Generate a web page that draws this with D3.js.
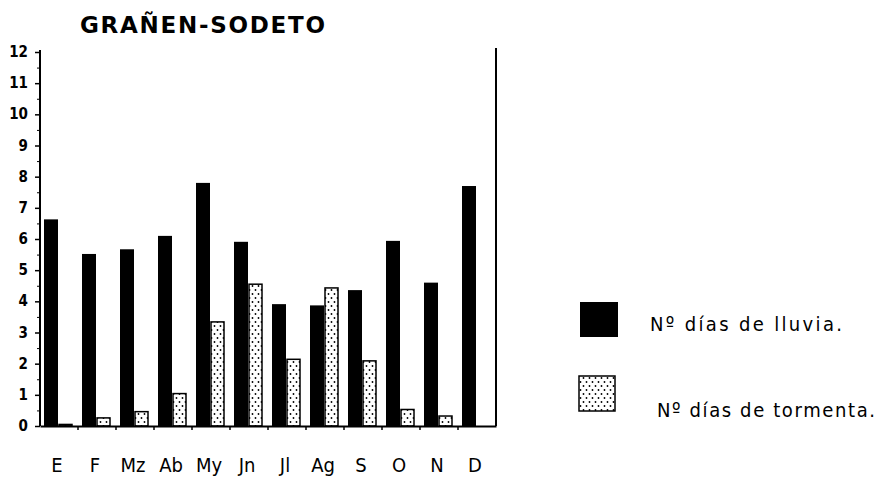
<!DOCTYPE html>
<head>
<meta charset="utf-8">
<style>
  body { margin: 0; background: white; }
  svg { background: white; font-family: 'DejaVu Sans Condensed', 'Liberation Sans Narrow', 'DejaVu Sans', sans-serif; }
  .title { font-size: 23px; font-weight: bold; font-family: 'DejaVu Sans', sans-serif; }
  .tick-label { font-size: 15px; font-weight: bold; }
  .month { font-size: 20px; }
  .legend text { font-size: 20px; }
</style>
</head>
<body>
<script src="https://d3js.org/d3.v7.min.js"></script>
<script>
// data
const months = ['E', 'F', 'Mz', 'Ab', 'My', 'Jn', 'Jl', 'Ag', 'S', 'O', 'N', 'D'];
const lluvia = [6.63, 5.52, 5.67, 6.10, 7.80, 5.91, 3.91, 3.87, 4.36, 5.94, 4.60, 7.70];
const tormenta = [0.05, 0.26, 0.46, 1.04, 3.34, 4.55, 2.14, 4.43, 2.09, 0.53, 0.32, 0];
const yTicks = [0, 1, 2, 3, 4, 5, 6, 7, 8, 9, 10, 11, 12];
const seriesNames = ['lluvia', 'tormenta'];
const legendLabels = ['Nº días de lluvia.', 'Nº días de tormenta.'];

const width = 887, height = 480;
const margin = {top: 52, right: 391, bottom: 54, left: 40};

const svg = d3.select('body').append('svg')
  .attr('width', width)
  .attr('height', height);

// dotted fill
const defs = svg.append('defs');
const pat = defs.append('pattern')
  .attr('id', 'dots')
  .attr('patternUnits', 'userSpaceOnUse')
  .attr('width', 6).attr('height', 8);
pat.append('rect').attr('width', 6).attr('height', 8).attr('fill', 'white');
pat.append('circle').attr('cx', 1.5).attr('cy', 2).attr('r', 0.9).attr('fill', 'black');
pat.append('circle').attr('cx', 4.5).attr('cy', 6).attr('r', 0.9).attr('fill', 'black');

// SCALES
const x = d3.scaleBand(months, [margin.left, width - margin.right]);
const x1 = d3.scaleBand(seriesNames, [4, 32]);
const y = d3.scaleLinear([0, 12], [height - margin.bottom, margin.top]);

// BARS
const groups = svg.append('g').selectAll('g')
  .data(months)
  .join('g')
  .attr('transform', d => `translate(${x(d)},0)`);

groups.append('rect')
  .attr('x', x1('lluvia'))
  .attr('width', x1.bandwidth())
  .attr('y', (d, i) => y(lluvia[i]))
  .attr('height', (d, i) => y(0) - y(lluvia[i]))
  .attr('fill', 'black');

groups.filter((d, i) => tormenta[i] > 0).append('rect')
  .attr('x', x1('tormenta') + 1)
  .attr('width', x1.bandwidth() - 1)
  .attr('y', d => y(tormenta[months.indexOf(d)]))
  .attr('height', d => y(0) - y(tormenta[months.indexOf(d)]))
  .attr('fill', 'url(#dots)')
  .attr('stroke', 'black')
  .attr('stroke-width', 1.5);

// AXES
const yAxisG = svg.append('g')
  .attr('transform', `translate(${margin.left},0)`)
  .call(d3.axisLeft(y).tickValues(yTicks).tickSize(5).tickFormat(''));
yAxisG.select('.domain').attr('stroke-width', 2).attr('d', `M0,${y(0)}V${y(12) - 2}`);
yAxisG.selectAll('line').attr('stroke-width', 1.5);

// half-unit minor ticks
svg.append('g')
  .attr('transform', `translate(${margin.left},0)`)
  .call(d3.axisLeft(y).tickValues(yTicks.slice(1).map(d => d - 0.5)).tickSize(3).tickFormat(''))
  .call(g => g.select('.domain').remove());

svg.append('g').selectAll('text')
  .data(yTicks)
  .join('text')
  .attr('class', 'tick-label')
  .attr('x', margin.left - 12)
  .attr('y', d => y(d) + 5)
  .attr('text-anchor', 'end')
  .text(d => d);

const xAxisG = svg.append('g')
  .attr('transform', `translate(0,${y(0)})`)
  .call(d3.axisBottom(x).tickSize(0).tickFormat(''));
xAxisG.select('.domain').attr('stroke-width', 2);

// tick marks at band boundaries
svg.append('g').selectAll('line')
  .data(months.slice(1))
  .join('line')
  .attr('x1', d => x(d)).attr('x2', d => x(d))
  .attr('y1', y(0)).attr('y2', y(0) + 4)
  .attr('stroke', 'black').attr('stroke-width', 1.5);

// right frame line
svg.append('line')
  .attr('x1', width - margin.right).attr('x2', width - margin.right)
  .attr('y1', y(12) - 4).attr('y2', y(0))
  .attr('stroke', 'black').attr('stroke-width', 2);

svg.append('g').selectAll('text')
  .data(months)
  .join('text')
  .attr('class', 'month')
  .attr('x', d => x(d) + x.bandwidth() / 2 - 2)
  .attr('y', 472)
  .attr('text-anchor', 'middle')
  .text(d => d);

// TITLE
svg.append('text')
  .attr('class', 'title')
  .attr('x', 80)
  .attr('y', 33)
  .attr('textLength', 245)
  .attr('lengthAdjust', 'spacing')
  .text('GRAÑEN-SODETO');

// LEGEND
const legend = svg.append('g').attr('class', 'legend');
legend.append('rect')
  .attr('x', 580).attr('y', 302).attr('width', 38).attr('height', 35)
  .attr('fill', 'black');
legend.append('rect')
  .attr('x', 579).attr('y', 376).attr('width', 36).attr('height', 35)
  .attr('fill', 'url(#dots)').attr('stroke', 'black').attr('stroke-width', 1.5);
legend.append('text')
  .attr('x', 650).attr('y', 331)
  .attr('textLength', 192)
  .attr('lengthAdjust', 'spacing')
  .text(legendLabels[0]);
legend.append('text')
  .attr('x', 657).attr('y', 417)
  .attr('textLength', 218)
  .attr('lengthAdjust', 'spacing')
  .text(legendLabels[1]);
</script>
</body>
